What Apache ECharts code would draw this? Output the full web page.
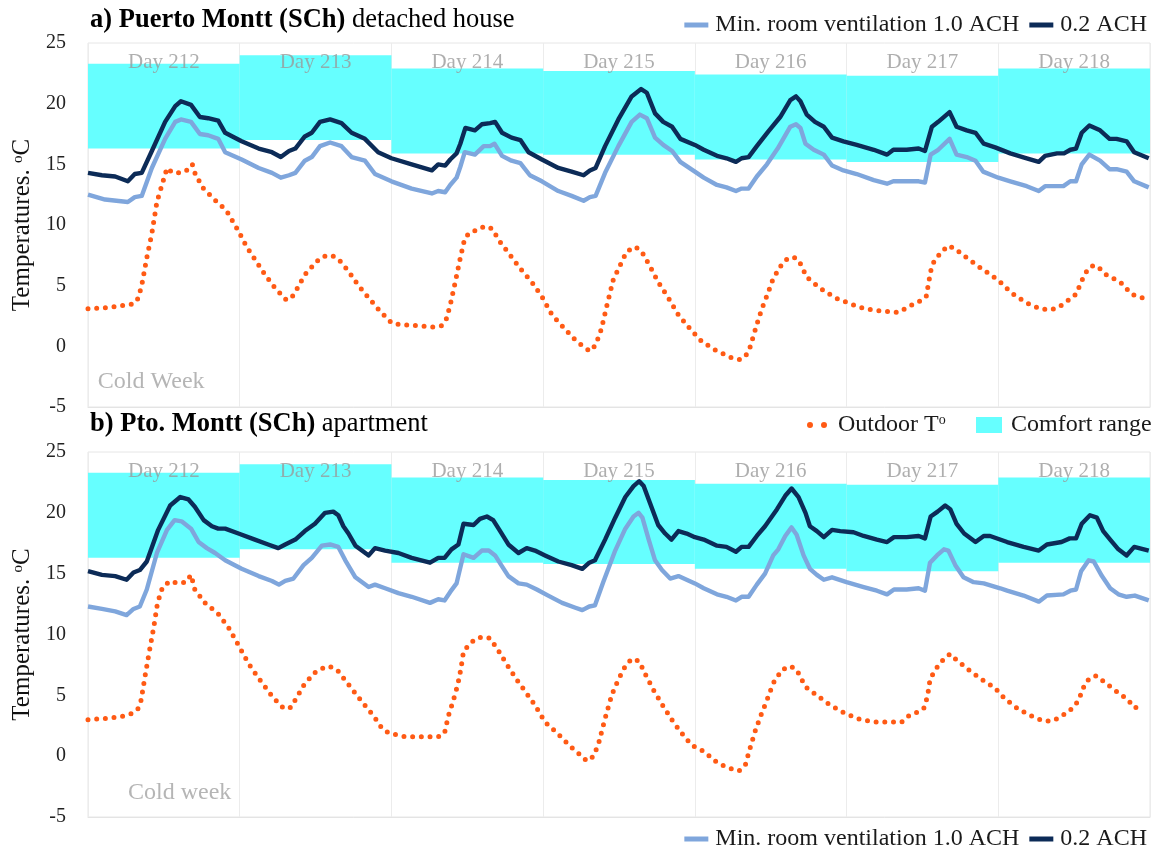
<!DOCTYPE html>
<html>
<head>
<meta charset="utf-8">
<script src="https://cdn.jsdelivr.net/npm/echarts@6.0.0/dist/echarts.min.js"></script>
<style>
  html, body { margin: 0; padding: 0; background: #ffffff; }
  #chart { width: 1155px; height: 852px; }
</style>
</head>
<body>
<div id="chart"></div>
<script>
// Hourly simulation week (hour 0 = start of day 212), temperatures in °C
const dayLabels = ['Day 212', 'Day 213', 'Day 214', 'Day 215', 'Day 216', 'Day 217', 'Day 218'];
const dayStarts = [0, 24, 48, 72, 96, 120, 144];
const comfortLow = [16.3, 17.0, 15.9, 15.8, 15.4, 15.2, 15.9];
const comfortHigh = [23.3, 24.0, 22.9, 22.7, 22.4, 22.3, 22.9];
const yMin = -5, yMax = 25, yStep = 5;

// a) detached house
const houseAch10 = [[0,12.5],[2.7,12.1],[6.3,11.9],[7.4,12.3],[8.5,12.4],[10.1,14.7],[12.2,17.1],[13.8,18.5],[14.7,18.7],[16.3,18.5],[17.7,17.5],[19.0,17.4],[20.6,17.1],[21.7,16.0],[24.3,15.4],[27.0,14.7],[29.1,14.3],[30.5,13.9],[31.8,14.1],[32.8,14.3],[34.3,15.3],[35.4,15.6],[36.7,16.5],[38.3,16.8],[40.1,16.5],[41.7,15.6],[43.8,15.3],[45.4,14.2],[48.0,13.6],[51.2,13.0],[54.4,12.6],[55.4,12.8],[56.5,12.7],[57.3,13.3],[58.3,13.9],[58.9,14.8],[59.6,16.0],[61.2,15.8],[62.6,16.5],[63.6,16.5],[64.3,16.7],[65.5,15.7],[67.0,15.3],[68.4,15.1],[69.9,14.1],[71.8,13.6],[74.4,12.8],[76.5,12.4],[78.4,12.0],[79.4,12.3],[80.3,12.4],[81.8,14.3],[83.9,16.5],[86.0,18.5],[87.3,19.1],[88.4,18.8],[89.7,17.2],[91.0,16.6],[92.4,16.1],[93.7,15.2],[96.0,14.4],[97.4,13.9],[99.5,13.3],[101.0,13.1],[102.5,12.8],[103.4,13.0],[104.5,13.0],[105.8,14.0],[107.4,15.0],[109.1,16.3],[111.1,18.1],[112.0,18.3],[112.7,18.0],[113.5,16.7],[114.8,16.2],[116.4,15.8],[117.7,14.9],[119.5,14.5],[121.6,14.2],[124.3,13.7],[126.4,13.4],[127.4,13.6],[129.5,13.6],[131.4,13.6],[132.4,13.5],[133.3,15.8],[134.5,16.2],[136.3,17.1],[137.4,15.8],[139.0,15.6],[140.4,15.3],[141.6,14.4],[144.0,13.9],[145.9,13.6],[148.5,13.2],[150.4,12.8],[151.4,13.2],[154.3,13.2],[155.4,13.6],[156.3,13.6],[157.2,15.0],[158.4,15.8],[160.1,15.3],[161.6,14.6],[162.7,14.6],[164.3,14.4],[165.5,13.6],[167.8,13.1]];
const houseAch02 = [[0,14.3],[2.2,14.1],[4.3,14.0],[6.3,13.6],[7.4,14.2],[8.5,14.3],[10.1,16.1],[12.2,18.5],[13.8,19.8],[14.7,20.2],[16.3,19.9],[17.7,18.9],[19.0,18.8],[20.6,18.6],[21.7,17.6],[24.3,16.9],[27.0,16.3],[29.1,16.0],[30.5,15.6],[31.8,16.1],[32.8,16.3],[34.3,17.3],[35.4,17.6],[36.7,18.5],[38.3,18.7],[40.1,18.4],[41.7,17.6],[43.8,17.1],[45.9,16.0],[48.0,15.5],[51.2,15.0],[54.4,14.5],[55.4,15.0],[56.5,14.9],[57.3,15.4],[58.3,15.9],[58.9,16.7],[59.7,18.0],[61.2,17.8],[62.3,18.3],[63.6,18.4],[64.4,18.5],[65.5,17.6],[67.0,17.2],[68.4,17.0],[69.7,16.0],[71.8,15.4],[74.4,14.7],[76.5,14.4],[78.4,14.1],[79.4,14.5],[80.3,14.7],[81.8,16.5],[83.9,18.7],[86.0,20.6],[87.5,21.2],[88.4,20.9],[89.7,19.2],[91.0,18.5],[92.4,18.1],[93.7,17.1],[96.0,16.6],[97.4,16.2],[99.5,15.7],[101.0,15.5],[102.5,15.2],[103.4,15.5],[104.5,15.6],[105.8,16.5],[107.6,17.7],[109.5,18.9],[111.1,20.3],[112.0,20.6],[112.7,20.2],[113.7,19.1],[115.0,18.5],[116.4,18.1],[117.7,17.2],[119.5,16.9],[121.6,16.6],[124.3,16.2],[126.4,15.8],[127.4,16.2],[129.5,16.2],[131.4,16.3],[132.4,16.1],[133.5,18.1],[134.5,18.5],[136.3,19.3],[137.4,18.1],[139.0,17.8],[140.4,17.6],[141.7,16.7],[143.5,16.4],[145.9,15.9],[148.5,15.5],[150.4,15.2],[151.4,15.7],[153.3,15.9],[154.4,15.9],[155.4,16.2],[156.3,16.3],[157.2,17.6],[158.4,18.2],[160.1,17.8],[161.6,17.1],[162.7,17.1],[164.3,16.9],[165.5,16.0],[167.8,15.5]];
const houseOutdoor = [[0,3.1],[3.2,3.2],[5.9,3.4],[7.2,3.5],[8.0,4.0],[8.6,5.3],[9.3,7.3],[10.1,9.3],[10.9,11.9],[11.7,13.3],[12.5,14.7],[13.4,14.3],[14.7,14.3],[15.6,14.5],[16.5,15.0],[16.9,14.3],[18.1,13.1],[20.0,12.1],[21.9,11.2],[23.8,9.5],[25.1,8.2],[28.0,5.9],[29.6,4.8],[31.4,3.8],[32.5,4.2],[34.3,5.9],[36.2,7.0],[37.2,7.4],[38.5,7.5],[39.6,7.2],[41.2,6.2],[42.8,5.0],[44.4,4.0],[46.2,2.9],[48.1,1.9],[49.4,1.8],[52.0,1.7],[54.6,1.6],[55.9,1.7],[56.6,2.1],[57.3,3.4],[58.1,5.3],[58.9,7.3],[59.6,8.9],[60.4,9.4],[61.7,9.6],[62.7,9.9],[63.9,9.7],[65.2,8.6],[66.8,7.5],[68.4,6.4],[70.2,5.3],[71.8,4.1],[73.4,2.6],[75.5,1.4],[77.3,0.4],[79.4,-0.4],[80.3,0.1],[81.2,1.4],[82.1,3.4],[83.1,5.5],[84.2,6.7],[85.2,7.8],[86.6,8.2],[87.6,7.8],[88.9,6.6],[90.2,5.3],[91.8,4.0],[93.4,2.6],[95.3,1.4],[97.1,0.4],[99.2,-0.3],[101.6,-0.9],[103.1,-1.1],[104.0,-0.8],[104.6,-0.3],[105.0,0.4],[105.8,1.8],[106.6,3.1],[107.5,4.3],[108.4,5.6],[109.8,6.8],[110.8,7.3],[111.9,7.3],[112.7,6.8],[113.7,5.7],[115.8,4.8],[118.2,4.0],[120.6,3.5],[122.9,3.1],[125.6,2.9],[128.2,2.8],[130.3,3.4],[131.9,3.8],[132.6,4.1],[133.0,5.3],[133.5,6.7],[134.4,7.4],[136.0,8.3],[137.0,8.1],[139.0,7.3],[141.1,6.5],[143.3,5.7],[144.3,5.3],[146.1,4.4],[148.4,3.6],[150.6,3.1],[152.1,3.0],[153.5,3.2],[155.6,4.0],[156.5,4.4],[156.9,5.1],[157.5,5.7],[158.1,6.3],[159.1,6.7],[160.1,6.4],[161.1,5.9],[163.3,5.3],[165.1,4.3],[167.4,3.9]];
const houseNote = [[10, -2.95, 'Cold Week']];

// b) apartment
const flatAch10 = [[0,12.3],[2.2,12.1],[4.3,11.9],[6.1,11.6],[7.2,12.1],[8.2,12.3],[9.3,13.7],[10.9,16.7],[12.5,18.6],[13.7,19.4],[14.8,19.3],[16.3,18.7],[17.5,17.6],[18.8,17.1],[20.1,16.7],[21.7,16.1],[24.3,15.4],[27.0,14.8],[29.1,14.4],[30.2,14.1],[31.2,14.4],[32.5,14.6],[34.1,15.7],[35.4,16.3],[37.0,17.3],[38.3,17.4],[39.6,17.2],[40.7,16.1],[42.3,14.7],[44.4,13.9],[45.4,14.1],[47.0,13.8],[49.1,13.4],[51.2,13.1],[54.1,12.6],[55.4,12.9],[56.4,12.8],[57.3,13.5],[58.3,14.2],[59.4,16.6],[61.0,16.3],[62.3,16.9],[63.4,16.9],[64.4,16.5],[65.5,15.6],[66.5,14.8],[68.1,14.2],[69.4,14.1],[71.0,13.7],[72.8,13.2],[75.0,12.6],[77.1,12.2],[78.2,12.0],[79.3,12.3],[80.2,12.4],[81.5,14.3],[83.4,16.9],[85.0,18.7],[86.3,19.7],[87.1,20.0],[87.7,19.6],[88.7,17.8],[89.7,16.1],[90.8,15.3],[92.1,14.6],[93.4,14.8],[96.0,14.2],[97.4,13.8],[99.5,13.3],[101.0,13.1],[102.5,12.8],[103.4,13.1],[104.5,13.1],[105.8,14.1],[107.1,15.0],[108.4,16.5],[109.2,17.0],[110.3,18.1],[111.3,18.8],[112.1,18.2],[113.2,16.5],[114.2,15.4],[115.3,14.9],[116.4,14.5],[117.7,14.7],[120.0,14.3],[122.7,13.9],[124.8,13.6],[126.4,13.3],[127.5,13.7],[129.5,13.7],[131.4,13.8],[132.4,13.6],[133.2,15.9],[134.3,16.5],[135.4,17.0],[136.1,16.9],[137.2,15.7],[138.5,14.7],[140.1,14.3],[141.7,14.2],[144.3,13.8],[145.4,13.6],[148.0,13.2],[150.4,12.7],[151.7,13.2],[154.3,13.3],[155.4,13.6],[156.3,13.7],[157.1,15.2],[158.3,16.1],[159.1,16.0],[160.4,14.8],[161.7,13.8],[163.0,13.3],[164.3,13.1],[165.6,13.2],[167.8,12.8]];
const flatAch02 = [[0,15.2],[2.2,14.9],[4.3,14.8],[6.1,14.5],[7.2,15.1],[8.2,15.3],[9.3,16.0],[11.1,18.6],[13.0,20.6],[14.6,21.3],[15.9,21.1],[16.9,20.5],[18.3,19.4],[19.6,18.9],[20.6,18.7],[21.7,18.7],[23.8,18.3],[26.4,17.8],[28.5,17.4],[30.1,17.1],[31.2,17.4],[32.8,17.8],[34.3,18.5],[35.9,19.1],[37.5,20.0],[38.8,20.1],[39.6,19.8],[40.4,18.9],[41.2,18.3],[42.3,17.3],[43.6,16.8],[44.4,16.5],[45.4,17.1],[47.0,16.9],[49.1,16.7],[51.2,16.3],[54.1,15.9],[55.4,16.3],[56.4,16.3],[57.5,17.0],[58.6,17.4],[59.4,19.1],[61.0,19.0],[62.0,19.5],[63.1,19.7],[64.1,19.4],[65.2,18.5],[66.5,17.4],[68.1,16.7],[69.4,17.1],[70.7,16.9],[72.3,16.5],[74.4,16.0],[76.5,15.7],[78.2,15.4],[79.3,15.9],[80.2,16.1],[81.8,17.8],[83.4,19.6],[85.0,21.3],[86.3,22.2],[87.2,22.6],[87.9,22.2],[88.9,20.8],[90.2,19.0],[91.3,18.3],[92.3,17.8],[93.4,18.5],[94.7,18.3],[96.0,18.0],[97.4,17.8],[99.5,17.3],[101.0,17.2],[102.5,16.8],[103.4,17.2],[104.5,17.2],[105.8,18.1],[107.1,18.9],[109.0,20.3],[110.3,21.4],[111.3,22.0],[112.4,21.3],[113.5,20.0],[114.2,18.9],[115.3,18.5],[116.4,18.0],[117.7,18.6],[119.0,18.5],[121.1,18.4],[122.7,18.1],[124.8,17.8],[126.4,17.6],[127.5,18.0],[129.5,18.0],[131.4,18.1],[132.4,17.9],[133.3,19.7],[134.4,20.1],[135.6,20.6],[136.4,20.3],[137.4,19.1],[138.6,18.3],[140.4,17.6],[141.7,18.1],[142.7,18.1],[145.4,17.6],[148.0,17.2],[150.4,16.9],[151.7,17.4],[154.0,17.6],[155.3,17.9],[156.3,17.9],[157.2,19.1],[158.5,19.8],[159.6,19.6],[160.6,18.5],[161.7,17.8],[163.0,17.0],[164.3,16.5],[165.5,17.2],[167.8,16.9]];
const flatOutdoor = [[0,3.0],[3.0,3.1],[5.6,3.3],[6.9,3.5],[7.9,3.9],[8.4,4.6],[9.0,6.5],[9.7,8.6],[10.4,10.6],[11.0,12.6],[11.8,13.9],[13.0,14.4],[14.3,14.2],[15.5,14.3],[16.3,14.9],[16.9,13.7],[18.5,12.6],[20.6,11.7],[22.2,10.6],[23.5,9.4],[25.4,7.6],[27.0,6.4],[29.3,4.8],[31.0,3.9],[32.1,4.0],[34.1,5.8],[35.7,6.8],[37.0,7.2],[38.1,7.4],[39.4,7.1],[40.9,6.1],[43.3,4.5],[45.2,3.3],[46.5,2.3],[47.6,1.9],[50.2,1.6],[52.8,1.6],[55.4,1.6],[56.4,1.9],[57.0,3.3],[57.8,4.6],[58.5,5.9],[59.0,7.2],[59.4,8.6],[60.2,9.1],[61.2,9.6],[62.3,9.8],[63.6,9.7],[64.9,8.7],[66.3,7.5],[67.8,6.3],[69.2,5.3],[70.7,4.2],[72.3,2.8],[74.2,1.9],[76.3,0.8],[78.1,0.0],[78.9,-0.4],[80.0,0.0],[80.8,1.1],[81.8,3.1],[82.9,5.1],[83.9,6.3],[85.0,7.4],[86.0,8.0],[87.2,7.8],[88.1,6.8],[89.5,5.4],[91.0,4.1],[92.6,2.8],[93.9,1.9],[95.5,0.9],[97.4,0.4],[99.7,-0.6],[102.1,-1.1],[103.0,-1.2],[104.0,-0.7],[104.7,0.6],[105.5,2.0],[106.4,3.3],[107.4,4.6],[108.4,6.0],[109.8,7.1],[111.1,7.4],[112.1,7.1],[113.5,5.7],[115.3,5.0],[117.4,4.2],[119.8,3.5],[122.2,3.0],[124.8,2.8],[127.4,2.8],[128.7,2.8],[129.8,3.3],[131.1,3.6],[132.2,3.9],[132.8,4.9],[133.2,6.3],[134.0,7.1],[135.4,8.0],[136.4,8.4],[137.4,7.9],[139.3,7.1],[141.4,6.3],[143.5,5.6],[144.5,5.0],[146.5,4.1],[148.8,3.4],[151.1,2.9],[152.5,2.9],[153.8,3.2],[155.9,4.0],[156.7,4.6],[157.6,5.8],[158.4,6.4],[159.5,6.6],[160.5,6.2],[162.5,5.4],[164.6,4.6],[165.4,4.0],[166.7,4.0]];
const flatNote = [[14.5, -3.0, 'Cold week']];

const NAME_10 = 'Min. room ventilation 1.0 ACH';
const NAME_02 = '0.2 ACH';
const NAME_OUT = 'Outdoor Tº';
const NAME_COMFORT = 'Comfort range';

const SERIF = "'Liberation Serif', 'Times New Roman', serif";
const C_LIGHT = '#7fa6dc';
const C_DARK = '#0c2b57';
const C_OUT = '#ff5a14';
const C_CYAN = '#66ffff';
const C_GREY = '#9a9a9a';

const comfortRows = dayStarts.map((s, i) => [s, s + 24, comfortLow[i], comfortHigh[i]]);
const dayLabelRows = dayStarts.map((s, i) => [s + 12, 23.4, dayLabels[i]]);

function panelSeries(g, ach10, ach02, outdoor, note) {
  return [
    {
      name: NAME_COMFORT, type: 'custom', xAxisIndex: g, yAxisIndex: g, z: 1,
      itemStyle: { color: C_CYAN },
      encode: { x: [0, 1], y: [2, 3] },
      data: comfortRows,
      renderItem: (params, api) => {
        const a = api.coord([api.value(0), api.value(3)]);
        const b = api.coord([api.value(1), api.value(2)]);
        return { type: 'rect', shape: { x: a[0], y: a[1], width: b[0] - a[0], height: b[1] - a[1] },
                 style: { fill: C_CYAN } };
      }
    },
    {
      name: NAME_OUT, type: 'line', xAxisIndex: g, yAxisIndex: g, z: 3,
      data: outdoor, showSymbol: false, symbol: 'none',
      itemStyle: { color: C_OUT },
      lineStyle: { color: C_OUT, width: 5, type: [0, 8.7], cap: 'round' }
    },
    {
      name: NAME_10, type: 'line', xAxisIndex: g, yAxisIndex: g, z: 4,
      data: ach10, showSymbol: false, symbol: 'none',
      itemStyle: { color: C_LIGHT },
      lineStyle: { color: C_LIGHT, width: 4.4, join: 'round' }
    },
    {
      name: NAME_02, type: 'line', xAxisIndex: g, yAxisIndex: g, z: 5,
      data: ach02, showSymbol: false, symbol: 'none',
      itemStyle: { color: C_DARK },
      lineStyle: { color: C_DARK, width: 4.4, join: 'round' }
    },
    {
      type: 'scatter', xAxisIndex: g, yAxisIndex: g, z: 6, symbolSize: 0, silent: true,
      data: dayLabelRows,
      label: { show: true, position: 'inside', formatter: p => p.value[2],
               fontFamily: SERIF, fontSize: 21, color: C_GREY }
    },
    {
      type: 'scatter', xAxisIndex: g, yAxisIndex: g, z: 6, symbolSize: 0, silent: true,
      data: note,
      label: { show: true, position: 'inside', formatter: p => p.value[2],
               fontFamily: SERIF, fontSize: 24, color: '#a3a3a3' }
    }
  ];
}

function xAxisFor(g) {
  return {
    type: 'value', gridIndex: g, min: 0, max: 168, interval: 24,
    axisLabel: { show: false }, axisTick: { show: false },
    axisLine: { show: true, onZero: false, lineStyle: { color: '#e4e4e4', width: 1 } },
    splitLine: { show: true, lineStyle: { color: '#ececec', width: 1 } }
  };
}

function yAxisFor(g) {
  return {
    type: 'value', gridIndex: g, min: yMin, max: yMax, interval: yStep,
    axisLine: { show: false }, axisTick: { show: false }, splitLine: { show: false },
    axisLabel: { fontFamily: SERIF, fontSize: 20, color: '#222', margin: 22 },
    name: '{t|Temperatures. }{s|o}{t|C}', nameLocation: 'middle', nameGap: 52, nameRotate: 90,
    nameTextStyle: {
      rich: {
        t: { fontFamily: SERIF, fontSize: 25, color: '#111' },
        s: { fontFamily: SERIF, fontSize: 15, color: '#111', verticalAlign: 'top' }
      }
    }
  };
}

const lineLegend = (top) => ({
  right: 3, top: top, orient: 'horizontal',
  data: [{ name: NAME_10, icon: 'rect' }, { name: NAME_02, icon: 'rect' }],
  itemWidth: 24, itemHeight: 5, itemGap: 10,
  textStyle: { fontFamily: SERIF, fontSize: 24, color: '#1a1a1a', padding: [0, 0, 0, 2] },
  selectedMode: false
});

const titleRich = {
  b: { fontFamily: SERIF, fontSize: 26.5, fontWeight: 'bold', color: '#000' },
  n: { fontFamily: SERIF, fontSize: 26.5, fontWeight: 'normal', color: '#000' }
};

const option = {
  animation: false,
  backgroundColor: '#ffffff',
  title: [
    {
      left: 85, top: 2,
      text: '{b|a) Puerto Montt (SCh)}{n| detached house}',
      textStyle: { fontWeight: 'normal', rich: titleRich }
    },
    {
      left: 85, top: 406,
      text: '{b|b) Pto. Montt (SCh)}{n| apartment}',
      textStyle: { fontWeight: 'normal', rich: titleRich }
    }
  ],
  legend: [
    lineLegend(8),
    {
      left: 802, top: 408, selectedMode: false,
      data: [{ name: NAME_OUT, icon: 'path://M0,3a3,3 0 1,0 6,0a3,3 0 1,0 -6,0M14,3a3,3 0 1,0 6,0a3,3 0 1,0 -6,0' }],
      itemWidth: 20, itemHeight: 6,
      formatter: () => '{t|Outdoor T}{s|o}',
      textStyle: { padding: [0, 0, 0, 6], rich: {
        t: { fontFamily: SERIF, fontSize: 24, color: '#1a1a1a' },
        s: { fontFamily: SERIF, fontSize: 14, color: '#1a1a1a', verticalAlign: 'top' } } }
    },
    {
      left: 971, top: 408, selectedMode: false,
      data: [{ name: NAME_COMFORT, icon: 'rect' }],
      itemWidth: 26, itemHeight: 16,
      textStyle: { fontFamily: SERIF, fontSize: 24, color: '#1a1a1a', padding: [0, 0, 0, 4] }
    },
    lineLegend(822)
  ],
  grid: [
    { left: 88, top: 43, width: 1062, height: 364, show: true, borderColor: '#e6e6e6', borderWidth: 1, backgroundColor: 'transparent' },
    { left: 88, top: 452, width: 1062, height: 365, show: true, borderColor: '#e6e6e6', borderWidth: 1, backgroundColor: 'transparent' }
  ],
  xAxis: [xAxisFor(0), xAxisFor(1)],
  yAxis: [yAxisFor(0), yAxisFor(1)],
  series: [
    ...panelSeries(0, houseAch10, houseAch02, houseOutdoor, houseNote),
    ...panelSeries(1, flatAch10, flatAch02, flatOutdoor, flatNote)
  ]
};

const chart = echarts.init(document.getElementById('chart'), null, { renderer: 'canvas' });
chart.setOption(option);
</script>
</body>
</html>
